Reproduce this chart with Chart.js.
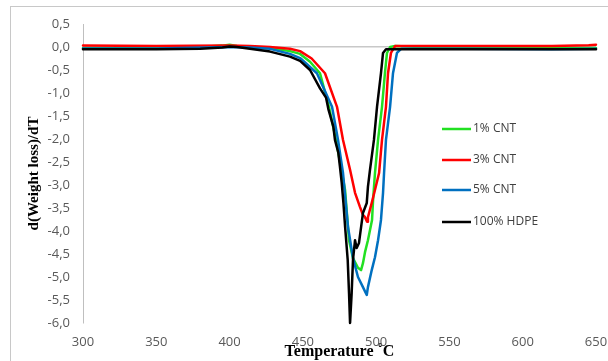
<!DOCTYPE html>
<html><head><meta charset="utf-8">
<script src="https://cdn.jsdelivr.net/npm/chart.js@4/dist/chart.umd.min.js"></script>
<style>html,body{margin:0;padding:0;background:#fff}canvas{display:block}</style>
</head><body>
<canvas id="c" width="608" height="361"></canvas>
<script>
// ---- data ----
const seriesLabels = ['1% CNT', '3% CNT', '5% CNT', '100% HDPE'];
const xTickValues = [300, 350, 400, 450, 500, 550, 600, 650];
const yTickValues = [0.5, 0, -0.5, -1, -1.5, -2, -2.5, -3, -3.5, -4, -4.5, -5, -5.5, -6];

const tempGreen = [300, 350, 380, 395, 400, 405, 413.9, 427.6, 441.2, 448.1, 454.9, 461.7, 467.8, 472.6, 476.7, 478.8, 481.5, 484.2, 487.6, 489.7, 491.0, 492.4, 494.4, 497.2, 497.9, 499.2, 501.3, 504.0, 506.0, 507.4, 509.5, 512.9, 530, 580, 620, 650];
const valGreen  = [-0.02, -0.02, 0.0, 0.03, 0.05, 0.02, 0.0, -0.02, -0.09, -0.15, -0.32, -0.57, -1.30, -2.02, -2.74, -3.11, -4.2, -4.59, -4.8, -4.85, -4.7, -4.46, -4.2, -3.76, -3.33, -2.74, -2.02, -1.30, -0.57, -0.13, 0.0, 0.02, 0.0, -0.02, -0.02, -0.02];

const tempRed = [300, 350, 400, 413.9, 427.6, 441.2, 448.1, 456, 465.1, 473.3, 477.4, 482.2, 485.6, 489.0, 491.0, 492.4, 493.8, 494.4, 497.0, 499.2, 502.0, 504.0, 506.7, 508.1, 510.1, 512.9, 516.3, 560, 620, 645, 650];
const valRed  = [0.03, 0.02, 0.03, 0.02, 0.0, -0.04, -0.09, -0.25, -0.57, -1.30, -2.02, -2.67, -3.17, -3.48, -3.65, -3.70, -3.80, -3.70, -3.39, -3.11, -2.74, -2.02, -1.30, -0.57, -0.13, 0.02, 0.02, 0.02, 0.02, 0.04, 0.05];

const tempBlue = [300, 350, 400, 413.9, 427.6, 441.2, 448.1, 459.6, 469.9, 474.0, 477.4, 480.8, 484.2, 487.6, 491.0, 493.6, 494.4, 497.0, 499.2, 501.3, 503.3, 504.7, 505.4, 506.7, 509.5, 511.5, 514.2, 517.0, 560, 620, 650];
const valBlue  = [-0.03, -0.03, 0.0, -0.01, -0.04, -0.15, -0.24, -0.57, -1.30, -2.02, -2.74, -3.91, -4.59, -5.0, -5.22, -5.39, -5.22, -4.85, -4.57, -4.2, -3.76, -3.17, -2.74, -2.02, -1.30, -0.57, -0.13, -0.04, -0.04, -0.05, -0.04];

const tempBlack = [300, 350, 380, 395, 400, 405, 413.9, 427.6, 441.2, 448.1, 454.9, 461.7, 465.8, 467.4, 470.8, 471.9, 474.2, 475.3, 476.5, 477.7, 478.8, 480.6, 481.5, 482.2, 483.3, 484.2, 485.6, 486.7, 488.3, 491.0, 493.6, 494.4, 495.8, 498.5, 500.6, 503.3, 504.7, 506.7, 560, 620, 650];
const valBlack  = [-0.05, -0.05, -0.04, -0.01, 0.01, 0.0, -0.04, -0.10, -0.21, -0.30, -0.50, -0.90, -1.10, -1.35, -1.73, -2.02, -2.30, -2.60, -2.95, -3.40, -3.90, -4.63, -5.35, -6.0, -5.35, -4.63, -4.20, -4.37, -4.26, -3.61, -3.39, -3.04, -2.67, -2.02, -1.30, -0.57, -0.13, -0.05, -0.05, -0.05, -0.05];

// ---- build ----
const toPts = (ts, vs) => ts.map((t, i) => ({ x: t, y: vs[i] }));
const colors = ['#22e022', '#ff0000', '#0070c0', '#000000'];
const seriesData = [toPts(tempGreen, valGreen), toPts(tempRed, valRed), toPts(tempBlue, valBlue), toPts(tempBlack, valBlack)];

const datasets = seriesLabels.map((lab, i) => ({
  label: lab,
  data: seriesData[i],
  borderColor: colors[i],
  backgroundColor: colors[i],
  borderWidth: 2.5,
  pointRadius: 0,
  tension: 0,
  borderJoinStyle: 'round',
  borderCapStyle: 'round',
  order: 4 - i,
  clip: false
}));

const frame = {
  id: 'frame',
  beforeDraw(chart) {
    const ctx = chart.ctx;
    ctx.save();
    ctx.fillStyle = '#ffffff';
    ctx.fillRect(0, 0, chart.width, chart.height);
    ctx.strokeStyle = '#c8c8c8';
    ctx.lineWidth = 1;
    ctx.strokeRect(10.5, 6.5, 640, 400);
    ctx.restore();
  }
};

const excelLegend = {
  id: 'excelLegend',
  afterDraw(chart) {
    const ctx = chart.ctx;
    const ys = [129, 160, 190, 222];
    ctx.save();
    ctx.font = '12px "Open Sans"';
    ctx.textBaseline = 'middle';
    ctx.textAlign = 'left';
    chart.data.datasets.forEach((ds, i) => {
      const y = ys[i];
      ctx.strokeStyle = ds.borderColor;
      ctx.lineWidth = 2.5;
      ctx.beginPath();
      ctx.moveTo(442, y);
      ctx.lineTo(471, y);
      ctx.stroke();
      ctx.fillStyle = '#404040';
      ctx.fillText(ds.label, 473, y);
    });
    ctx.restore();
  }
};

new Chart(document.getElementById('c'), {
  type: 'line',
  data: { datasets },
  plugins: [frame, excelLegend],
  options: {
    responsive: false,
    devicePixelRatio: 1,
    animation: false,
    layout: { padding: { left: 0, top: 24, right: 0, bottom: 0 } },
    plugins: { legend: { display: false }, tooltip: { enabled: false } },
    scales: {
      x: {
        type: 'linear',
        min: 300, max: 650,
        afterBuildTicks: (s) => { s.ticks = xTickValues.map(v => ({ value: v })); },
        afterFit: (s) => { s.height = 38; s.paddingRight = 12; s.paddingLeft = 0; },
        grid: { display: false, drawTicks: false },
        border: { display: false },
        ticks: { padding: 11, color: '#595959', font: { family: 'Open Sans', size: 13 }, maxRotation: 0 },
        title: { display: true, text: 'Temperature \u02DAC', color: '#000', font: { family: 'Liberation Serif', size: 16, weight: 'bold' }, padding: { top: 0, bottom: 0 } }
      },
      y: {
        min: -6, max: 0.5,
        afterBuildTicks: (s) => { s.ticks = yTickValues.map(v => ({ value: v })); },
        afterFit: (s) => { s.width = 83; },
        grid: {
          drawTicks: false,
          color: (c) => (c.tick && c.tick.value === 0 ? '#c8c8c8' : 'rgba(0,0,0,0)'),
          lineWidth: 1.5
        },
        border: { display: true, color: '#bfbfbf', width: 1 },
        ticks: {
          padding: 13, color: '#595959', font: { family: 'Open Sans', size: 13 },
          callback: (v) => Number(v).toFixed(1).replace('.', ',')
        },
        title: { display: true, text: 'd(Weight loss)/dT', color: '#000', font: { family: 'Liberation Serif', size: 15, weight: 'bold' }, padding: { top: 25, bottom: 0 } }
      }
    }
  }
});
</script>
</body></html>
